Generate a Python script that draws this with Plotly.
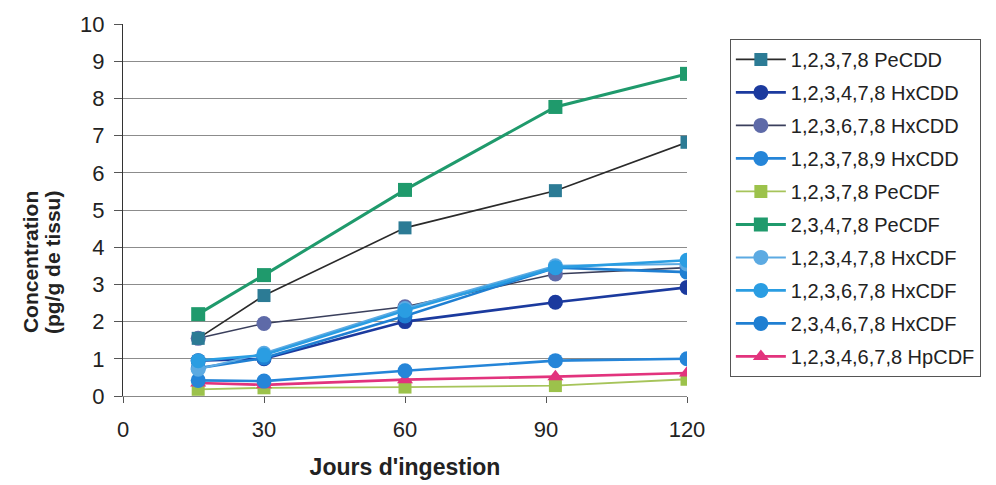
import plotly.graph_objects as go

days = [16, 30, 60, 92, 120]

series_names = [
    "1,2,3,7,8 PeCDD",
    "1,2,3,4,7,8 HxCDD",
    "1,2,3,6,7,8 HxCDD",
    "1,2,3,7,8,9 HxCDD",
    "1,2,3,7,8 PeCDF",
    "2,3,4,7,8 PeCDF",
    "1,2,3,4,7,8 HxCDF",
    "1,2,3,6,7,8 HxCDF",
    "2,3,4,6,7,8 HxCDF",
    "1,2,3,4,6,7,8 HpCDF",
]

pecdd_12378 = [1.55, 2.7, 4.52, 5.52, 6.82]
hxcdd_123478 = [0.95, 1.0, 2.0, 2.52, 2.92]
hxcdd_123678 = [1.55, 1.95, 2.4, 3.28, 3.45]
hxcdd_123789 = [0.42, 0.4, 0.68, 0.95, 1.0]
pecdf_12378 = [0.18, 0.22, 0.24, 0.28, 0.45]
pecdf_23478 = [2.2, 3.25, 5.54, 7.77, 8.66]
hxcdf_123478 = [0.72, 1.15, 2.35, 3.5, 3.55]
hxcdf_123678 = [0.95, 1.1, 2.3, 3.45, 3.65]
hxcdf_234678 = [0.75, 1.02, 2.15, 3.45, 3.33]
hpcdf_1234678 = [0.35, 0.3, 0.44, 0.52, 0.62]

y_title_lines = ["Concentration", "(pg/g de tissu)"]
x_title = "Jours d'ingestion"

values = [pecdd_12378, hxcdd_123478, hxcdd_123678, hxcdd_123789, pecdf_12378,
          pecdf_23478, hxcdf_123478, hxcdf_123678, hxcdf_234678, hpcdf_1234678]

marker_colors = ["#2C7B95", "#1B3A9E", "#5E6AA8", "#2585D8", "#9CC24B",
                 "#1F9A6C", "#5CAAE2", "#2A9DE2", "#1F7FD2", "#E2337D"]
line_colors = ["#2a2a2a", "#1B3A9E", "#3a3f5c", "#2585D8", "#A6C45A",
               "#1F9A6C", "#5CAAE2", "#2A9DE2", "#1F7FD2", "#E2337D"]
line_widths = [1.6, 2.6, 1.6, 2.6, 1.8, 3.0, 2.0, 2.6, 2.6, 2.6]
symbols = ["square", "circle", "circle", "circle", "square",
           "square", "circle", "circle", "circle", "triangle-up"]
sizes = [13, 15, 15, 15, 13, 14, 15, 15, 15, 14]

draw_order = [4, 9, 3, 2, 1, 8, 6, 7, 0, 5]

fig = go.Figure()
for i in range(len(series_names)):
    fig.add_trace(go.Scatter(
        x=days, y=values[i], name=series_names[i], mode="lines+markers",
        line=dict(color=line_colors[i], width=line_widths[i]),
        marker=dict(symbol=symbols[i], size=sizes[i], color=marker_colors[i],
                    line=dict(width=0)),
        legendgroup=f"g{i}", legendrank=i + 1,
    ))

fig.data = tuple(fig.data[i] for i in draw_order)

font_family = "Arial, Liberation Sans, sans-serif"

fig.update_layout(
    width=988, height=477,
    margin=dict(l=115, r=309, t=16, b=89),
    paper_bgcolor="white", plot_bgcolor="white",
    font=dict(family=font_family, size=22, color="#222222"),
    showlegend=True,
    legend=dict(
        x=1.076, y=0.96, xanchor="left", yanchor="top",
        bordercolor="#555555", borderwidth=1,
        font=dict(size=20, color="#222222", family=font_family),
        tracegroupgap=4, itemwidth=50,
        traceorder="grouped",
    ),
    xaxis=dict(
        range=[0, 120], tickvals=[0, 30, 60, 90, 120],
        showgrid=False, zeroline=False, automargin=False,
        showline=True, linecolor="#888888", linewidth=1,
        ticks="outside", ticklen=6, tickcolor="#555555",
        tickfont=dict(size=22), ticklabelstandoff=8,
        title=dict(text="<b>" + x_title + "</b>", font=dict(size=23), standoff=17),
    ),
    yaxis=dict(
        range=[0, 10], tickvals=list(range(0, 11)),
        showgrid=True, gridcolor="#8c8c8c", gridwidth=1,
        zeroline=False, automargin=False,
        showline=True, linecolor="#333333", linewidth=1,
        ticks="outside", ticklen=8, tickcolor="#555555",
        tickfont=dict(size=22), ticklabelstandoff=5,
    ),
    annotations=[
        dict(text="<b>" + y_title_lines[0] + "</b>", textangle=-90,
             xref="paper", yref="paper", x=0, y=0.36, xanchor="center", yanchor="middle",
             xshift=-93, showarrow=False, font=dict(size=21)),
        dict(text="<b>" + y_title_lines[1] + "</b>", textangle=-90,
             xref="paper", yref="paper", x=0, y=0.36, xanchor="center", yanchor="middle",
             xshift=-71, showarrow=False, font=dict(size=21)),
    ],
)

fig.write_html("out.html")
